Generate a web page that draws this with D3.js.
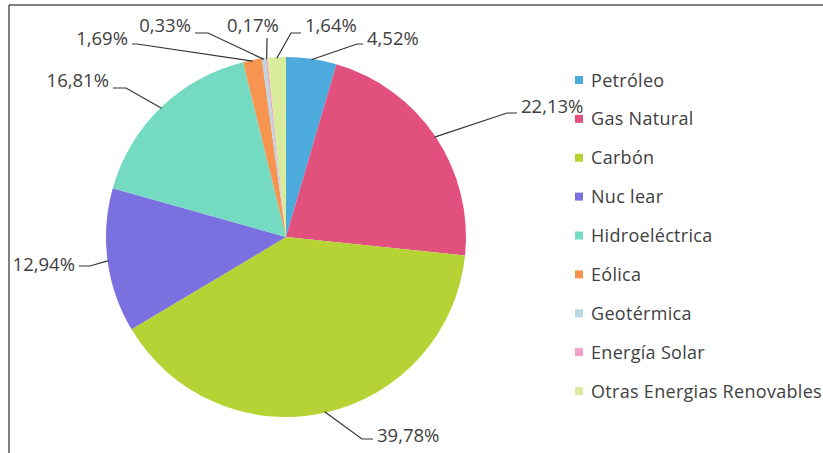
<!DOCTYPE html>
<html>
<head>
<meta charset="utf-8">
<script src="https://cdn.jsdelivr.net/npm/d3@7/dist/d3.min.js"></script>
<style>
  html, body { margin: 0; padding: 0; background: #fff; }
  svg { display: block; }
  text { font-family: "Open Sans", sans-serif; fill: #404040; }
</style>
</head>
<body>
<svg id="chart" width="823" height="453"></svg>
<script>
// ---- data ----
const categories = ["Petróleo", "Gas Natural", "Carbón", "Nuc lear", "Hidroeléctrica", "Eólica", "Geotérmica", "Energía Solar", "Otras Energias Renovables"];
const values = [4.52, 22.13, 39.78, 12.94, 16.81, 1.69, 0.33, 0.17, 1.64];
const valueLabels = ["4,52%", "22,13%", "39,78%", "12,94%", "16,81%", "1,69%", "0,33%", "0,17%", "1,64%"];
const colors = ["#4caadc", "#e2507e", "#b5d334", "#7b70e0", "#74dbc2", "#f7944f", "#b9d6e3", "#f2a3c3", "#d8ec9c"];

// ---- label layout (positions of text anchors & elbows) ----
// [elbowX, elbowY, textX, textY, anchor]
const labelLayout = [
  [357, 44, 367, 45, "start"],
  [507, 113, 521, 113, "start"],
  [362, 439, 377, 442, "start"],
  [90, 266, 75, 271, "end"],
  [126, 88, 109, 87, "end"],
  [137, 44, 128, 45, "end"],
  [208, 33, 191, 32, "end"],
  [267, 38, 253, 32, "middle"],
  [291, 33, 305, 32, "start"]
];

const svg = d3.select("#chart");
const W = 823, H = 453;

// frame
svg.append("line").attr("x1", 9).attr("y1", 5).attr("x2", W).attr("y2", 5)
  .attr("stroke", "#555").attr("stroke-width", 1.5);
svg.append("line").attr("x1", 9).attr("y1", 5).attr("x2", 9).attr("y2", H)
  .attr("stroke", "#555").attr("stroke-width", 1.5);

const cx = 286, cy = 237, r = 180;
const pie = d3.pie().sort(null).value(d => d)(values);
const arc = d3.arc().innerRadius(0).outerRadius(r);
const edgeArc = d3.arc().innerRadius(r - 1).outerRadius(r - 1);

const g = svg.append("g").attr("transform", `translate(${cx},${cy})`);
g.selectAll("path.slice").data(pie).join("path")
  .attr("class", "slice")
  .attr("d", arc)
  .attr("fill", (d, i) => colors[i]);

// leader lines & labels
pie.forEach((d, i) => {
  const [ex, ey] = edgeArc.centroid(d);
  const sx = cx + ex, sy = cy + ey;
  const L = labelLayout[i];
  let pts;
  if (L[4] === "middle") {
    pts = [[sx, sy], [L[0], L[1]]];
  } else {
    const hx = L[4] === "start" ? L[2] - 4 : L[2] + 4;
    pts = [[sx, sy], [L[0], L[1]], [hx, L[1]]];
  }
  svg.append("path")
    .attr("d", d3.line()(pts))
    .attr("fill", "none")
    .attr("stroke", "#333")
    .attr("stroke-width", 1.2);
  svg.append("text")
    .attr("x", L[2]).attr("y", L[3])
    .attr("text-anchor", L[4])
    .attr("font-size", 18.5)
    .text(valueLabels[i]);
});

// legend
const legend = svg.append("g");
const ly = d3.scalePoint().domain(categories).range([80, 391]);
categories.forEach((c, i) => {
  const y = ly(c);
  legend.append("rect").attr("x", 575).attr("y", y - 4).attr("width", 8).attr("height", 8)
    .attr("fill", colors[i]);
  legend.append("text").attr("x", 591).attr("y", y + 6.5)
    .attr("font-size", 18).attr("letter-spacing", 0.3).text(c);
});
</script>
</body>
</html>
